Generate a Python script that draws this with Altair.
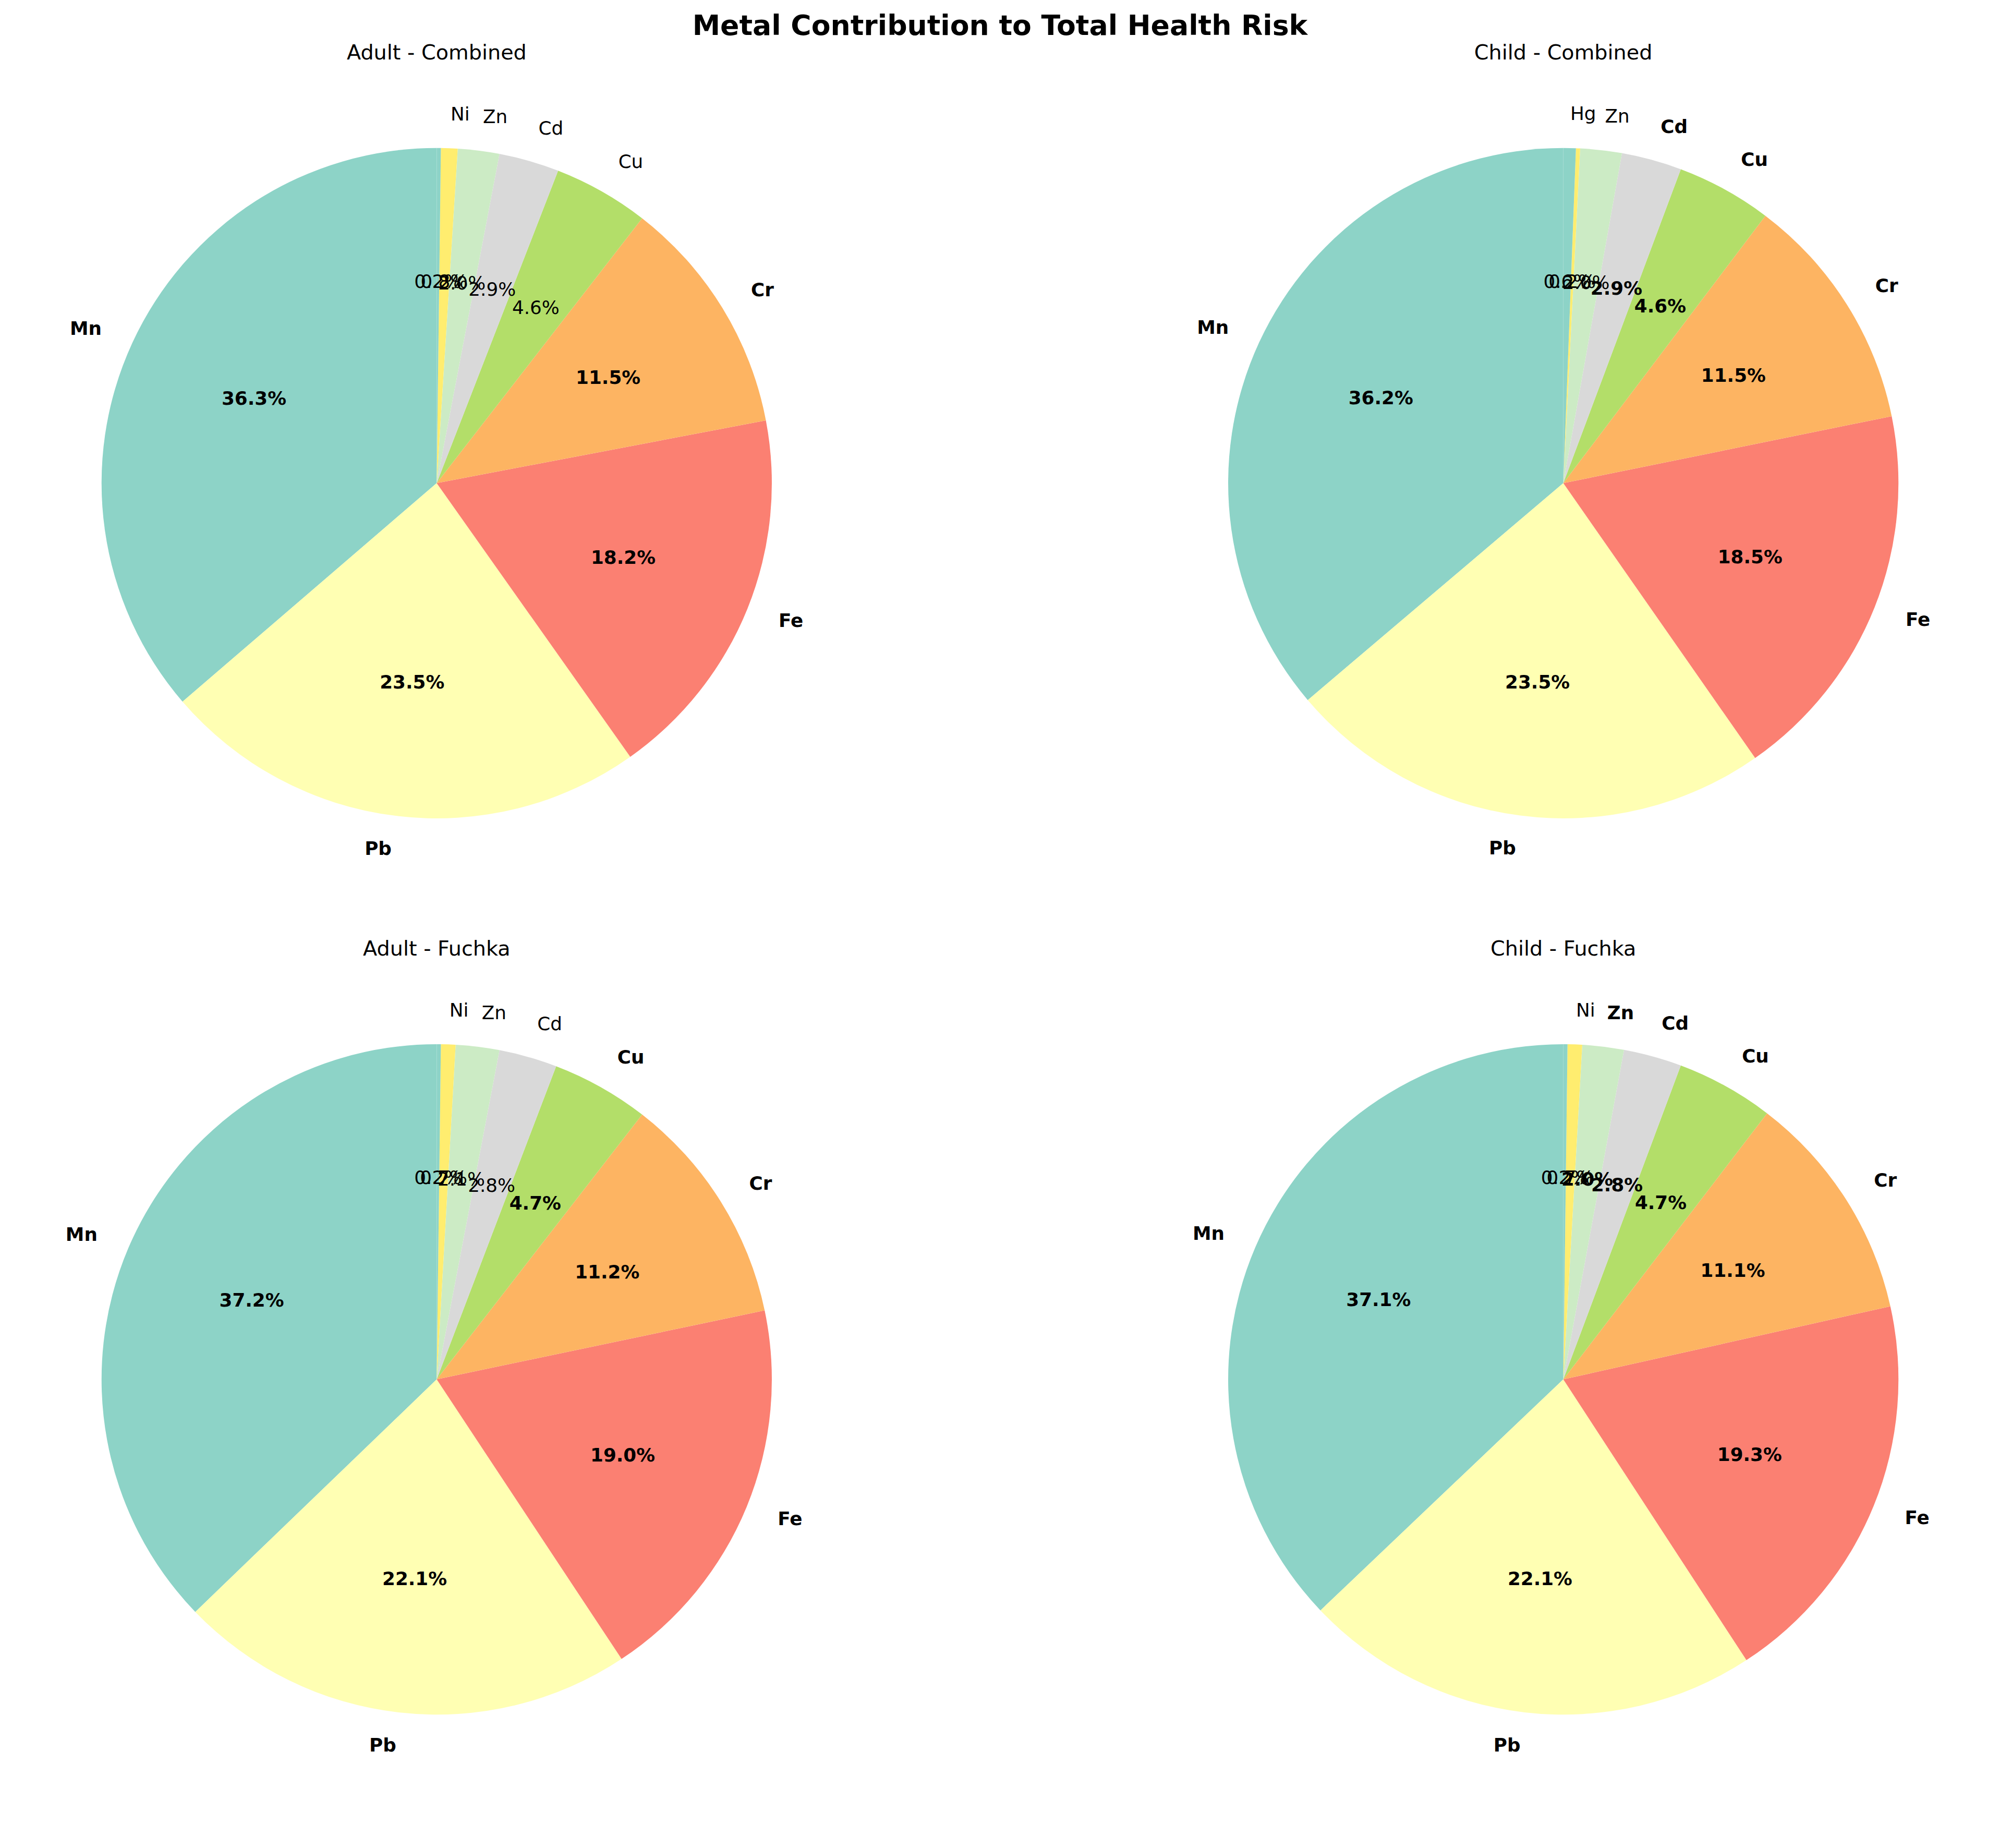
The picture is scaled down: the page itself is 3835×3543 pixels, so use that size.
import pandas as pd
import altair as alt

metals = ["Mn", "Pb", "Fe", "Cr", "Cu", "Cd", "Zn", "Ni", "Hg"]
colors = ["#8dd3c7", "#ffffb3", "#fb8072", "#fdb462", "#b3de69", "#d9d9d9", "#ccebc5", "#ffed6f", "#8dd3c7"]

adult_combined = [36.3, 23.5, 18.2, 11.5, 4.6, 2.9, 2.0, 0.8, 0.2]
child_combined = [36.2, 23.5, 18.5, 11.5, 4.6, 2.9, 2.0, 0.2, 0.6]
adult_fuchka = [37.2, 22.1, 19.0, 11.2, 4.7, 2.8, 2.1, 0.7, 0.2]
child_fuchka = [37.1, 22.1, 19.3, 11.1, 4.7, 2.8, 2.0, 0.7, 0.2]

# which metal name is shown on the small slices, and which labels are bold
panels = [
    ("Adult - Combined", adult_combined, "Ni", ["Mn", "Pb", "Fe", "Cr"]),
    ("Child - Combined", child_combined, "Hg", ["Mn", "Pb", "Fe", "Cr", "Cu", "Cd"]),
    ("Adult - Fuchka", adult_fuchka, "Ni", ["Mn", "Pb", "Fe", "Cr", "Cu"]),
    ("Child - Fuchka", child_fuchka, "Ni", ["Mn", "Pb", "Fe", "Cr", "Cu", "Cd", "Zn"]),
]

R = 647
W, H = 1660, 1500


def make_pie(title, vals, small_name, bold):
    df = pd.DataFrame({"metal": metals, "val": vals, "idx": range(len(metals))})
    df["pct"] = [f"{v:.1f}%" for v in df["val"]]
    df["name"] = [m if (m in metals[:7] or m == small_name) else "" for m in metals]
    df["bold"] = df["metal"].isin(bold)
    total = sum(vals)
    tscale = alt.Scale(domain=[0, total], range=[0, 6.283185307])
    scale = alt.Scale(domain=metals, range=colors)
    base = alt.Chart(df).transform_stack(
        stack="val", as_=["s0", "s1"], groupby=[],
        sort=[alt.SortField("idx", order="descending")],
    ).transform_calculate(mid="(datum.s0 + datum.s1) / 2")
    arc = base.mark_arc(outerRadius=R).encode(
        theta=alt.Theta("s0:Q", scale=tscale),
        theta2="s1:Q",
        color=alt.Color("metal:N", scale=scale, legend=None),
    )
    layers = [arc]
    for b in (True, False):
        fw = "bold" if b else "normal"
        for left in (True, False):
            side = alt.datum.mid > total / 2 if left else alt.datum.mid <= total / 2
            layers.append(
                base.transform_filter((alt.datum.bold == b) & side)
                .mark_text(radius=R * 1.1, fontSize=36, fontWeight=fw,
                           align="right" if left else "left", font="DejaVu Sans")
                .encode(theta=alt.Theta("mid:Q", scale=tscale), text="name:N")
            )
        layers.append(
            base.transform_filter(alt.datum.bold == b)
            .mark_text(radius=R * 0.6, fontSize=36, fontWeight=fw, font="DejaVu Sans")
            .encode(theta=alt.Theta("mid:Q", scale=tscale), text="pct:N")
        )
    return alt.layer(*layers).properties(
        width=W, height=H,
        title=alt.TitleParams(title, fontSize=40, fontWeight="normal", font="DejaVu Sans", offset=60),
    )


charts = [make_pie(*p) for p in panels]
top = alt.hconcat(charts[0], charts[1], spacing=515)
bottom = alt.hconcat(charts[2], charts[3], spacing=515)
chart = alt.vconcat(top, bottom, spacing=130).properties(
    title=alt.TitleParams("Metal Contribution to Total Health Risk", fontSize=54,
                          fontWeight="bold", font="DejaVu Sans", anchor="middle"),
).configure_view(stroke=None)

chart.save("out.html", embed_options={"renderer": "svg", "actions": False})
